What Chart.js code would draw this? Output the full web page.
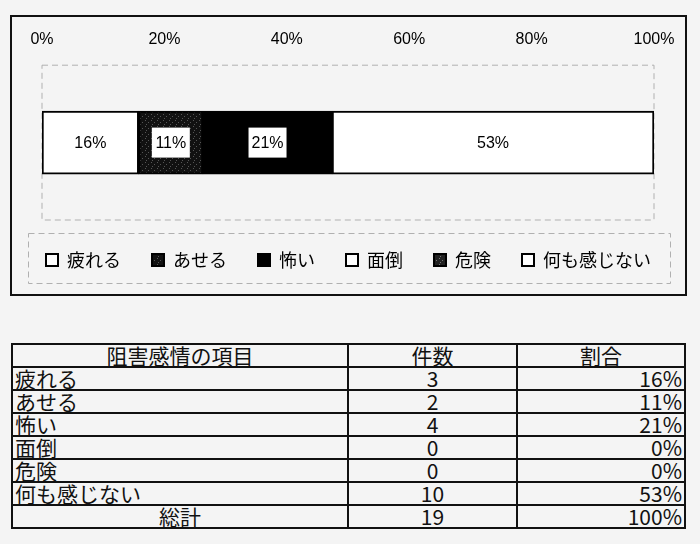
<!DOCTYPE html>
<html><head><meta charset="utf-8">
<script src="https://cdn.jsdelivr.net/npm/chart.js@4"></script>
<style>
html,body{margin:0;padding:0;background:#f4f4f4;width:700px;height:544px;overflow:hidden;font-family:"Liberation Sans Narrow","Noto Sans CJK JP",sans-serif;}
#box{position:absolute;left:10px;top:15px;width:673px;height:277px;border:2px solid #111;}
#box canvas{display:block;}
table{position:absolute;left:11px;top:343px;width:675px;border-collapse:collapse;font-family:"Noto Sans CJK JP",sans-serif;font-size:21px;color:#111;}
td,th{border:2px solid #111;height:21px;padding:0 2px;line-height:21px;font-weight:normal;overflow:hidden;}
th{text-align:center;}
td.c{text-align:center;} td.r{text-align:right;}
</style></head><body>
<div id="box"><canvas id="c" width="673" height="277"></canvas></div>
<table id="t"></table>
<script>
const categories = ['疲れる','あせる','怖い','面倒','危険','何も感じない'];
const counts = [3,2,4,0,0,10];
const percents = [15.8,10.5,21.1,0,0,52.6];
const pctLabels = ['16%','11%','21%','0%','0%','53%'];
const total = 19;
const totalLabel = '100%';
const tickLabels = ['0%','20%','40%','60%','80%','100%'];

function pattern(bg, fg){
  const p=document.createElement('canvas');p.width=6;p.height=6;const g=p.getContext('2d');
  g.fillStyle=bg;g.fillRect(0,0,6,6);g.fillStyle=fg;g.fillRect(1,1,1,1);g.fillRect(4,3,1,1);g.fillRect(2,5,1,1);
  return g.createPattern(p,'repeat');
}
const fills = ['#ffffff', pattern('#111111','#555555'), '#000000', '#ffffff', pattern('#222222','#777777'), '#ffffff'];
const darkLabel = [false,true,true,false,true,false];

const datasets = categories.map((name,i)=>({
  label:name, data:[percents[i]], backgroundColor:fills[i], borderColor:'#000', borderWidth:2, borderSkipped:false,
  barThickness:63
}));

const framePlugin = {
  id:'frame',
  beforeDatasetsDraw(chart){
    const {ctx,chartArea:a}=chart;
    ctx.save();ctx.strokeStyle='#b0b0b0';ctx.lineWidth=1;ctx.setLineDash([6,4]);
    ctx.strokeRect(a.left,a.top,a.right-a.left,a.bottom-a.top);
    ctx.strokeRect(16.5,216.5,642,50);
    ctx.restore();
  },
  afterDatasetsDraw(chart){
    const ctx=chart.ctx;
    ctx.save();
    ctx.font='16px "Liberation Sans Narrow","Liberation Sans",sans-serif';
    ctx.textAlign='center';ctx.textBaseline='middle';
    chart.data.datasets.forEach((ds,i)=>{
      if(!ds.data[0]) return;
      const el=chart.getDatasetMeta(i).data[0];
      const cx=(el.x+el.base)/2, cy=el.y;
      if(darkLabel[i]){ctx.fillStyle='#fff';ctx.fillRect(cx-19,cy-15,38,30);}
      ctx.fillStyle='#000';
      ctx.fillText(pctLabels[i],cx,cy+1);
    });
    ctx.restore();
  }
};

new Chart(document.getElementById('c'),{
  type:'bar',
  data:{labels:[''],datasets},
  options:{
    indexAxis:'y',responsive:false,animation:false,
    layout:{padding:{left:0,right:0,top:-3,bottom:15}},
    scales:{
      x:{position:'top',stacked:true,min:0,max:100,
        afterFit(s){s.paddingLeft=30;s.paddingRight=31;},
        ticks:{stepSize:20,color:'#000',padding:16,font:{size:16,family:'"Liberation Sans Narrow","Liberation Sans",sans-serif'},
          callback:(v,i)=>tickLabels[i]},
        grid:{display:false,drawTicks:false},border:{display:false}},
      y:{stacked:true,display:false}
    },
    plugins:{
      tooltip:{enabled:false},
      legend:{position:'bottom',
        labels:{color:'#000',boxWidth:12,boxHeight:12,padding:31,font:{size:18,lineHeight:1,family:'"Noto Sans CJK JP",sans-serif'},
          generateLabels(chart){return chart.data.datasets.map((d,i)=>({text:d.label,fillStyle:d.backgroundColor,strokeStyle:'#000',lineWidth:2,datasetIndex:i}));}
        }}
    }
  },
  plugins:[framePlugin]
});

const t=document.getElementById('t');
let h='<tr><th style="width:330px">阻害感情の項目</th><th style="width:163px">件数</th><th>割合</th></tr>';
categories.forEach((c,i)=>{h+=`<tr><td>${c}</td><td class="c">${counts[i]}</td><td class="r">${pctLabels[i]}</td></tr>`;});
h+=`<tr><td class="c">総計</td><td class="c">${total}</td><td class="r">${totalLabel}</td></tr>`;
t.innerHTML=h;
</script>
</body></html>
